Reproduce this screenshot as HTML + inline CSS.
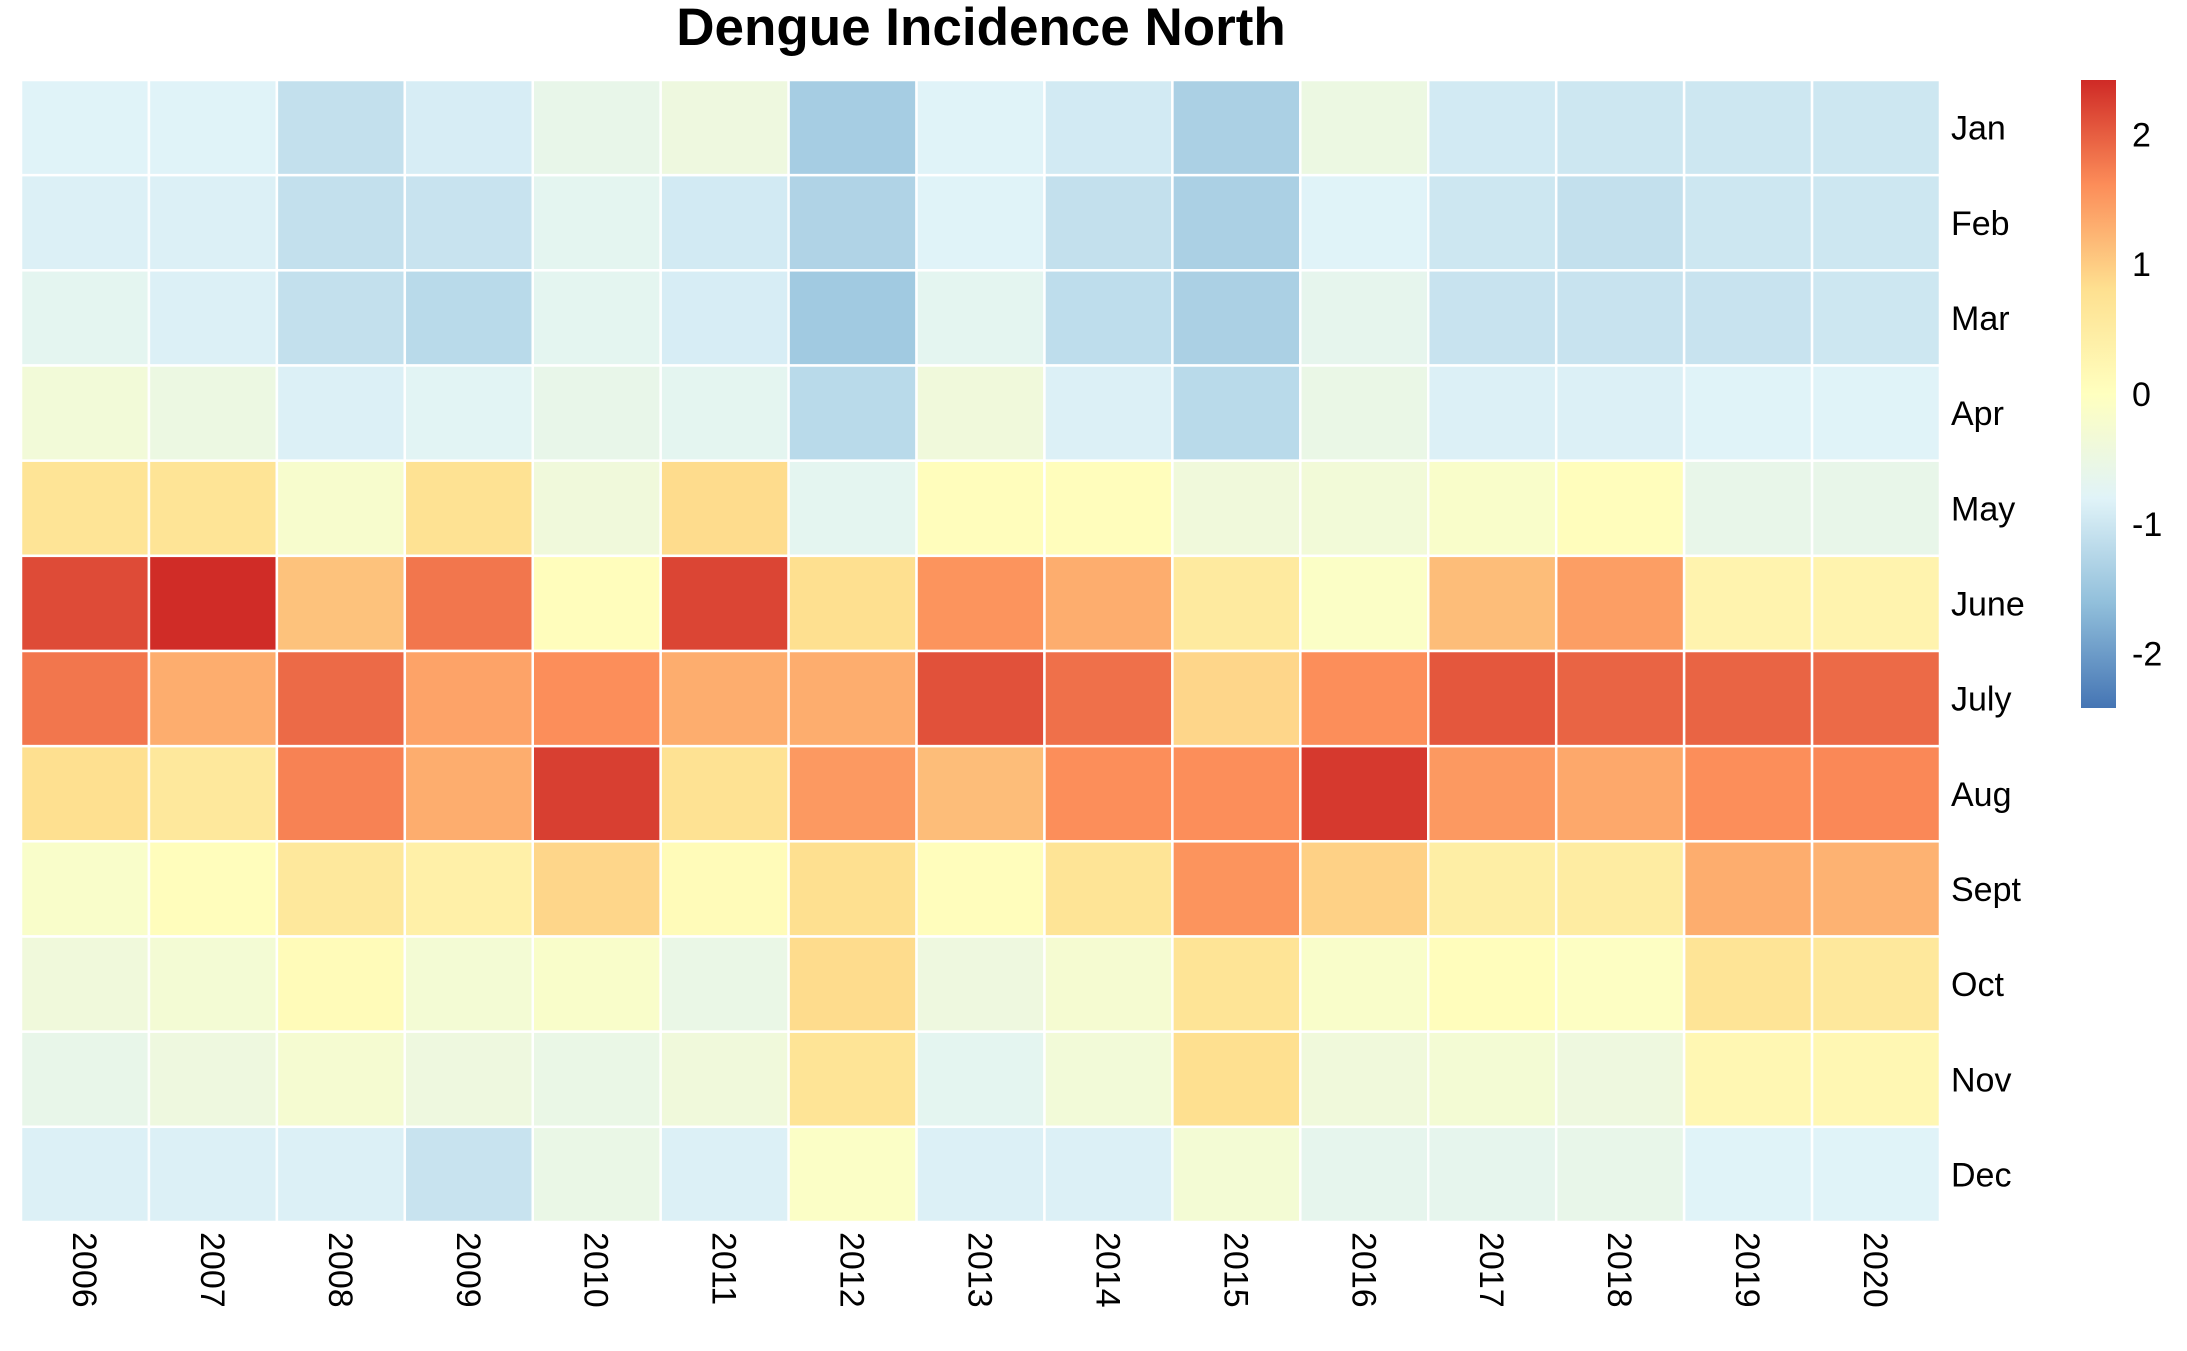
<!DOCTYPE html>
<html><head><meta charset="utf-8"><style>
html,body{margin:0;padding:0;background:#fff;}
svg{display:block;font-family:"Liberation Sans",Arial,sans-serif;}
</style></head><body>
<svg id="chart" width="2187" height="1351" viewBox="0 0 2187 1351">
<defs><linearGradient id="cbar" x1="0" y1="1" x2="0" y2="0">
<stop offset="0" stop-color="#4575B4"/><stop offset="0.1667" stop-color="#91BFDB"/><stop offset="0.3333" stop-color="#E0F3F8"/><stop offset="0.5" stop-color="#FFFFBF"/><stop offset="0.6667" stop-color="#FEE090"/><stop offset="0.8333" stop-color="#FC8D59"/><stop offset="1" stop-color="#CF2A26"/>
</linearGradient></defs>
<text x="981" y="45" text-anchor="middle" font-size="53" font-weight="bold">Dengue Incidence North</text>
<g id="cells"></g><g id="rowlabels"></g><g id="collabels"></g>
<rect x="2081" y="80" width="35" height="628" fill="url(#cbar)"/>
<g id="legendticks"></g>
</svg>
<script>
const years = ["2006","2007","2008","2009","2010","2011","2012","2013","2014","2015","2016","2017","2018","2019","2020"];
const months = ["Jan","Feb","Mar","Apr","May","June","July","Aug","Sept","Oct","Nov","Dec"];
const legendTicks = [2,1,0,-1,-2];
const rowJan = [-0.8,-0.8,-1.1,-0.9,-0.6,-0.45,-1.4,-0.8,-0.95,-1.35,-0.5,-0.95,-1.0,-1.0,-1.0];
const rowFeb = [-0.85,-0.85,-1.1,-1.05,-0.7,-0.95,-1.3,-0.8,-1.1,-1.35,-0.8,-1.0,-1.1,-1.0,-1.0];
const rowMar = [-0.7,-0.85,-1.1,-1.2,-0.7,-0.9,-1.45,-0.7,-1.15,-1.35,-0.65,-1.05,-1.05,-1.05,-1.0];
const rowApr = [-0.35,-0.5,-0.85,-0.75,-0.6,-0.7,-1.2,-0.4,-0.85,-1.2,-0.55,-0.85,-0.85,-0.8,-0.8];
const rowMay = [0.7,0.7,-0.2,0.75,-0.4,0.85,-0.7,0.05,0.05,-0.4,-0.35,-0.15,0.05,-0.6,-0.6];
const rowJun = [2.15,2.4,1.1,1.8,0.05,2.2,0.8,1.55,1.3,0.55,-0.1,1.15,1.45,0.3,0.3];
const rowJul = [1.8,1.3,1.9,1.4,1.6,1.3,1.3,2.1,1.85,0.9,1.6,2.05,1.95,1.95,1.9];
const rowAug = [0.8,0.6,1.7,1.3,2.25,0.75,1.5,1.15,1.6,1.6,2.3,1.5,1.35,1.6,1.65];
const rowSep = [-0.15,0.05,0.6,0.4,0.9,0.1,0.8,0.05,0.7,1.55,0.95,0.45,0.5,1.3,1.25];
const rowOct = [-0.4,-0.3,0.1,-0.3,-0.15,-0.55,0.85,-0.45,-0.25,0.7,-0.15,0.05,-0.05,0.7,0.6];
const rowNov = [-0.6,-0.45,-0.25,-0.45,-0.55,-0.4,0.7,-0.7,-0.35,0.8,-0.4,-0.3,-0.45,0.2,0.2];
const rowDec = [-0.85,-0.85,-0.85,-1.05,-0.55,-0.85,-0.1,-0.85,-0.85,-0.3,-0.65,-0.65,-0.6,-0.8,-0.8];
const rows = [rowJan,rowFeb,rowMar,rowApr,rowMay,rowJun,rowJul,rowAug,rowSep,rowOct,rowNov,rowDec];

const NS="http://www.w3.org/2000/svg";
const L=21,R=1940,T=80,B=1222,VMAX=2.42;
const cw=(R-L)/years.length, ch=(B-T)/months.length;
const xPos=i=>L+i*cw, yPos=j=>T+j*ch;
const pal=[[0x45,0x75,0xB4],[0x91,0xBF,0xDB],[0xE0,0xF3,0xF8],[0xFF,0xFF,0xBF],[0xFE,0xE0,0x90],[0xFC,0x8D,0x59],[0xCF,0x2A,0x26]];
function color(v){let t=(v+VMAX)/(2*VMAX);t=Math.max(0,Math.min(1,t))*6;let k=Math.min(5,Math.floor(t)),f=t-k;
const c=pal[k].map((a,i)=>Math.round(a+(pal[k+1][i]-a)*f));return `rgb(${c})`;}
const legY=v=>80+(VMAX-v)/(2*VMAX)*628;

const cells=document.getElementById('cells');
rows.forEach((row,j)=>row.forEach((v,i)=>{
  const r=document.createElementNS(NS,'rect');
  r.setAttribute('x',xPos(i));r.setAttribute('y',yPos(j));
  r.setAttribute('width',cw);r.setAttribute('height',ch);
  r.setAttribute('fill',color(v));r.setAttribute('stroke','#fff');r.setAttribute('stroke-width','2.5');
  
  
  cells.appendChild(r);
}));
const rl=document.getElementById('rowlabels');
months.forEach((m,j)=>{
  const t=document.createElementNS(NS,'text');
  t.setAttribute('x',1951);t.setAttribute('y',yPos(j)+ch/2+12);t.setAttribute('font-size','34');
  t.textContent=m;
  
  
  rl.appendChild(t);
});
const cl=document.getElementById('collabels');
years.forEach((y,i)=>{
  const t=document.createElementNS(NS,'text');
  const cx=xPos(i)+cw/2;
  t.setAttribute('transform',`translate(${cx-12},1232) rotate(90)`);t.setAttribute('font-size','34');
  t.textContent=y;
  
  
  cl.appendChild(t);
});
const lt=document.getElementById('legendticks');
legendTicks.forEach(v=>{
  const t=document.createElementNS(NS,'text');
  t.setAttribute('x',2132);t.setAttribute('y',legY(v)+12);t.setAttribute('font-size','34');
  t.textContent=String(v);
  
  
  lt.appendChild(t);
});
</script>
</body></html>
